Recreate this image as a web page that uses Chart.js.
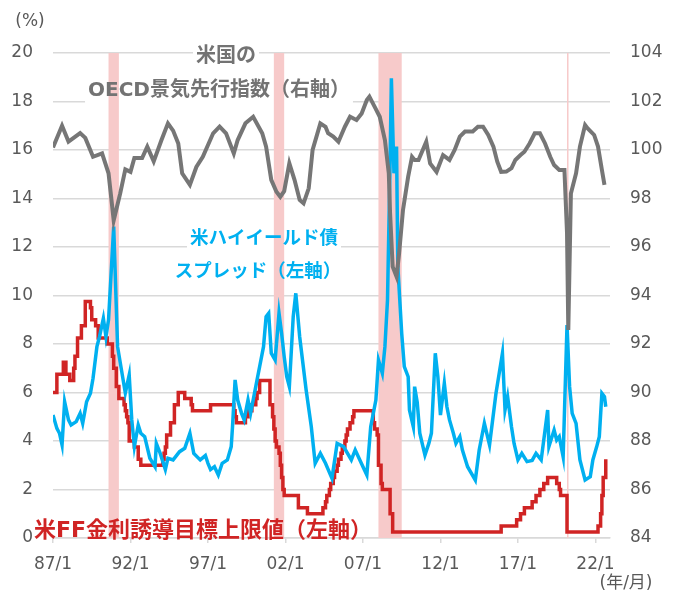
<!DOCTYPE html>
<html lang="ja">
<head>
  <meta charset="UTF-8">
  <title>米国の景気先行指数・ハイイールド債スプレッド・FF金利</title>
  <script src="https://cdn.jsdelivr.net/npm/chart.js"></script>
  <style>
    body { margin: 0; background: #ffffff; }
    #wrap { width: 676px; height: 595px; }
  </style>
</head>
<body>
<div id="wrap"><canvas id="chart" width="676" height="595"></canvas></div>
<script>
  // 米国のOECD景気先行指数（右軸）
  const cliMonths = ['1987-01','1987-08','1988-01','1988-10','1989-02','1989-08','1990-03','1990-08','1990-12','1991-05',
    '1991-09','1992-01','1992-04','1992-10','1993-02','1993-07','1994-01','1994-06','1994-10','1995-02',
    '1995-05','1995-11','1996-04','1996-09','1997-05','1997-10','1998-03','1998-09','1998-12','1999-06',
    '1999-12','2000-07','2000-10','2001-02','2001-06','2001-09','2001-12','2002-04','2002-08','2002-12',
    '2003-03','2003-07','2003-10','2004-04','2004-08','2004-10','2005-02','2005-06','2005-11','2006-03',
    '2006-08','2006-12','2007-04','2007-06','2007-10','2008-02','2008-06','2008-09','2008-10','2008-12',
    '2009-03','2009-05','2009-08','2009-12','2010-03','2010-05','2010-08','2011-02','2011-05','2011-10',
    '2012-03','2012-08','2012-12','2013-04','2013-08','2014-02','2014-06','2014-10','2015-02','2015-06',
    '2015-09','2015-12','2016-04','2016-08','2016-11','2017-03','2017-06','2017-10','2018-02','2018-06',
    '2018-10','2019-02','2019-05','2019-09','2020-01','2020-03','2020-04','2020-06','2020-10','2021-01',
    '2021-05','2021-07','2021-12','2022-03','2022-06','2022-08'];
  const cliValues = [100.1,101.0,100.35,100.7,100.5,99.72,99.86,99.04,97.1,98.2,
    99.2,99.1,99.67,99.67,100.14,99.53,100.41,101.1,100.8,100.27,
    99.04,98.56,99.3,99.72,100.69,100.96,100.69,99.86,100.41,101.1,
    101.37,100.69,100.14,98.77,98.28,98.07,98.3,99.45,98.77,97.94,
    97.8,98.42,100.0,101.1,100.96,100.69,100.55,100.34,100.96,101.37,
    101.24,101.51,102.06,102.2,101.79,101.37,100.41,99.04,97.39,95.19,
    94.78,95.74,97.53,98.9,99.72,99.59,99.59,100.34,99.45,99.1,
    99.79,99.59,100.0,100.55,100.76,100.76,100.96,100.96,100.62,100.14,
    99.52,99.1,99.11,99.25,99.59,99.79,99.93,100.27,100.69,100.69,
    100.27,99.72,99.38,99.18,99.18,96.58,92.58,98.21,99.04,100.14,
    101.03,100.89,100.62,100.14,99.18,98.56];

  // 米ハイイールド債スプレッド（左軸）
  const hyMonths = ['1987-01','1987-04','1987-06','1987-08','1987-10','1988-01','1988-03','1988-07','1988-10','1988-12',
    '1989-03','1989-06','1989-08','1989-11','1990-01','1990-04','1990-06','1990-08','1990-12','1991-03',
    '1991-09','1991-12','1992-02','1992-04','1992-07','1992-09','1992-12','1993-04','1993-08','1993-09',
    '1993-12','1994-04','1994-06','1994-10','1995-03','1995-07','1995-11','1996-02','1996-07','1996-11',
    '1997-01','1997-03','1997-06','1997-09','1997-12','1998-04','1998-07','1998-08','1998-10','1998-12',
    '1999-03','1999-05','1999-08','1999-10','2000-03','2000-05','2000-08','2000-10','2000-12','2001-02',
    '2001-05','2001-08','2001-10','2001-12','2002-02','2002-04','2002-07','2002-09','2002-12','2003-05',
    '2003-09','2003-12','2004-04','2004-08','2005-01','2005-05','2005-10','2006-04','2006-07','2007-01',
    '2007-04','2007-07','2007-11','2008-01','2008-04','2008-06','2008-08','2008-10','2008-11','2009-01',
    '2009-03','2009-04','2009-07','2009-09','2009-12','2010-01','2010-04','2010-05','2010-07','2010-09',
    '2011-01','2011-04','2011-06','2011-09','2011-11','2012-01','2012-04','2012-06','2012-08','2012-11',
    '2013-01','2013-04','2013-06','2013-10','2014-04','2014-07','2014-11','2015-03','2015-08','2016-01',
    '2016-03','2016-05','2016-08','2016-10','2017-01','2017-04','2017-08','2017-12','2018-03','2018-07',
    '2018-12','2019-01','2019-05','2019-07','2019-09','2019-12','2020-03','2020-05','2020-07','2020-10',
    '2021-01','2021-05','2021-09','2021-11','2022-02','2022-04','2022-06','2022-08','2022-09'];
  const hyValues = [5.07,4.52,4.32,3.84,5.62,4.87,4.66,4.80,5.14,4.73,
    5.62,5.97,6.59,7.89,8.30,9.06,8.30,9.00,12.84,7.89,
    5.98,6.72,4.87,3.77,4.66,4.32,4.18,3.29,2.94,3.90,
    3.49,2.82,3.29,3.22,3.56,3.70,4.32,3.49,3.22,3.40,
    3.08,2.82,2.94,2.60,3.08,3.22,3.77,4.59,6.52,5.69,
    5.14,4.87,5.69,5.14,6.52,7.07,7.89,9.13,9.27,7.62,
    7.34,9.27,8.44,7.48,6.65,6.24,9.13,10.09,8.30,6.10,
    4.59,3.08,3.49,3.08,2.46,3.90,3.77,3.22,3.63,2.94,
    2.60,4.59,5.69,7.34,6.79,7.89,9.81,15.5,18.96,15.04,
    16.14,11.2,8.44,7.07,6.65,5.28,4.59,6.24,5.60,4.32,
    3.42,3.90,4.32,7.62,6.65,5.07,6.38,5.41,4.87,4.32,
    3.90,4.18,3.63,2.94,2.39,3.63,4.73,3.84,5.97,7.62,
    5.28,5.83,4.59,3.90,3.22,3.49,3.15,3.20,3.49,3.22,
    5.28,3.77,4.45,4.04,4.18,3.35,8.78,6.24,5.14,4.73,
    3.22,2.39,2.53,3.22,3.77,4.18,5.97,5.83,5.41];

  // 米FF金利誘導目標上限値（左軸）：変更月と新しい水準
  const ffMonths = ['1987-01','1987-04','1987-09','1987-11','1988-02','1988-05','1988-06','1988-08','1988-11','1989-02',
    '1989-06','1989-07','1989-10','1989-12','1990-07','1990-11','1990-12','1991-02','1991-04','1991-08',
    '1991-09','1991-10','1991-11','1991-12','1992-04','1992-07','1992-09','1994-02','1994-03','1994-04',
    '1994-05','1994-08','1994-11','1995-02','1995-07','1995-12','1996-01','1997-03','1998-09','1998-10',
    '1998-11','1999-06','1999-08','1999-11','2000-02','2000-03','2000-05','2001-01','2001-03','2001-04',
    '2001-05','2001-06','2001-08','2001-09','2001-10','2001-11','2001-12','2002-11','2003-06','2004-06',
    '2004-08','2004-09','2004-11','2004-12','2005-02','2005-03','2005-05','2005-06','2005-08','2005-09',
    '2005-11','2005-12','2006-01','2006-03','2006-05','2006-06','2007-09','2007-10','2007-12','2008-01',
    '2008-03','2008-04','2008-10','2008-12','2015-12','2016-12','2017-03','2017-06','2017-12','2018-03',
    '2018-06','2018-09','2018-12','2019-07','2019-09','2019-10','2020-03','2022-03','2022-05','2022-06',
    '2022-07','2022-09'];
  const ffValues = [6.0,6.75,7.25,6.75,6.5,7.0,7.5,8.25,8.75,9.75,
    9.5,9.0,8.75,8.25,8.0,7.5,7.0,6.25,5.75,5.5,
    5.25,5.0,4.75,4.0,3.75,3.25,3.0,3.25,3.5,3.75,
    4.25,4.75,5.5,6.0,5.75,5.5,5.25,5.5,5.25,5.0,
    4.75,5.0,5.25,5.5,5.75,6.0,6.5,5.5,5.0,4.5,
    4.0,3.75,3.5,3.0,2.5,2.0,1.75,1.25,1.0,1.25,
    1.5,1.75,2.0,2.25,2.5,2.75,3.0,3.25,3.5,3.75,
    4.0,4.25,4.5,4.75,5.0,5.25,4.75,4.5,4.25,3.0,
    2.25,2.0,1.0,0.25,0.5,0.75,1.0,1.25,1.5,1.75,
    2.0,2.25,2.5,2.25,2.0,1.75,0.25,0.5,1.0,1.75,
    2.5,3.25];

  // 景気後退期（網掛け）
  const recFrom = ['1990-08','2001-04','2008-01','2020-03'];
  const recTo   = ['1991-04','2001-12','2009-07','2020-04'];

  const ym = s => { const [y, m] = s.split('-').map(Number); return y + (m - 1) / 12; };
  const toPoints = (months, values) => months.map((m, i) => ({ x: ym(m), y: values[i] }));

  const tickFont = { family: 'DejaVu Sans', size: 17 };
  const tickColor = '#595959';
  const gridColor = '#D9D9D9';
  const jpFont = '"DejaVu Sans", "Noto Sans CJK JP", sans-serif';

  // 注記の背後を白く塗る（目盛線を隠す）
  function whiteBox(ctx, n) {
    ctx.font = 'bold ' + n.size + 'px ' + jpFont;
    const w = ctx.measureText(n.text).width;
    ctx.fillStyle = '#ffffff';
    ctx.fillRect(n.x - w / 2 - 3, n.y - n.size / 2 - 2, w + 6, n.size + 4);
  }
  function drawText(ctx, n) {
    ctx.font = 'bold ' + n.size + 'px ' + jpFont;
    ctx.textAlign = 'center';
    ctx.textBaseline = 'middle';
    ctx.fillStyle = n.color;
    ctx.fillText(n.text, n.x, n.y);
  }

  const notes = [
    { text: '米国の', x: 226, y: 57, size: 20, color: '#737373', box: true },
    { text: 'OECD景気先行指数（右軸）', x: 219, y: 91, size: 20, color: '#737373', box: true },
    { text: '米ハイイールド債', x: 264, y: 239, size: 18.5, color: '#00B0F0', box: true },
    { text: 'スプレッド（左軸）', x: 258, y: 272, size: 18.5, color: '#00B0F0', box: true },
    { text: '米FF金利誘導目標上限値（左軸）', x: 203, y: 531, size: 22, color: '#D02424', box: false }
  ];

  const overlay = {
    id: 'overlay',
    beforeDatasetsDraw(chart) {
      const ctx = chart.ctx;
      const area = chart.chartArea;
      const xs = chart.scales.x;
      ctx.save();
      notes.forEach(n => { if (n.box) whiteBox(ctx, n); });
      // 景気後退期
      ctx.fillStyle = '#F7CACA';
      recFrom.forEach((f, i) => {
        const x0 = xs.getPixelForValue(ym(f));
        const x1 = xs.getPixelForValue(ym(recTo[i]));
        ctx.fillRect(x0, area.top, Math.max(x1 - x0, 1.5), area.bottom - area.top);
      });
      notes.forEach(n => drawText(ctx, n));
      // 単位
      ctx.font = '17px "DejaVu Sans", "Noto Sans CJK JP", sans-serif';
      ctx.fillStyle = tickColor;
      ctx.textBaseline = 'middle';
      ctx.textAlign = 'center';
      ctx.fillText('(%)', 30, 22);
      ctx.fillText('(年/月)', 626, 584);
      ctx.restore();
    }
  };

  const ctx = document.getElementById('chart').getContext('2d');
  const chart = new Chart(ctx, {
    type: 'line',
    data: {
      datasets: [
        {
          label: '米国のOECD景気先行指数（右軸）',
          data: toPoints(cliMonths, cliValues),
          yAxisID: 'y1',
          borderColor: '#767676',
          borderWidth: 4,
          pointRadius: 0,
          tension: 0
        },
        {
          label: '米ハイイールド債スプレッド（左軸）',
          data: toPoints(hyMonths, hyValues),
          yAxisID: 'y',
          borderColor: '#00B0F0',
          borderWidth: 3.5,
          pointRadius: 0,
          tension: 0
        },
        {
          label: '米FF金利誘導目標上限値（左軸）',
          data: toPoints(ffMonths, ffValues),
          yAxisID: 'y',
          borderColor: '#D02424',
          borderWidth: 3.5,
          pointRadius: 0,
          stepped: true
        }
      ]
    },
    options: {
      responsive: false,
      animation: false,
      layout: { padding: { top: 53, left: 0, right: 0, bottom: 0 } },
      plugins: { legend: { display: false }, tooltip: { enabled: false } },
      scales: {
        x: {
          type: 'linear',
          min: 1987,
          max: 2022.94,
          afterFit: s => { s.height = 57; },
          afterBuildTicks: s => { s.ticks = [1987, 1992, 1997, 2002, 2007, 2012, 2017, 2022].map(v => ({ value: v })); },
          grid: { drawOnChartArea: false, drawTicks: true, tickLength: 5, color: gridColor, lineWidth: 1.5 },
          border: { display: true, color: gridColor, width: 1.5 },
          ticks: {
            font: tickFont,
            color: tickColor,
            padding: 11,
            maxRotation: 0,
            callback: v => String(v).slice(2) + '/1'
          }
        },
        y: {
          position: 'left',
          min: 0,
          max: 20,
          afterFit: s => { s.width = 53; },
          grid: { color: gridColor, lineWidth: 1.5, drawTicks: false },
          border: { display: false },
          ticks: { stepSize: 2, font: tickFont, color: tickColor, padding: 20 }
        },
        y1: {
          position: 'right',
          min: 84,
          max: 104,
          afterFit: s => { s.width = 66; },
          grid: { drawOnChartArea: false, drawTicks: false },
          border: { display: false },
          ticks: { stepSize: 2, font: tickFont, color: tickColor, padding: 20 }
        }
      }
    },
    plugins: [overlay]
  });
</script>
</body>
</html>
